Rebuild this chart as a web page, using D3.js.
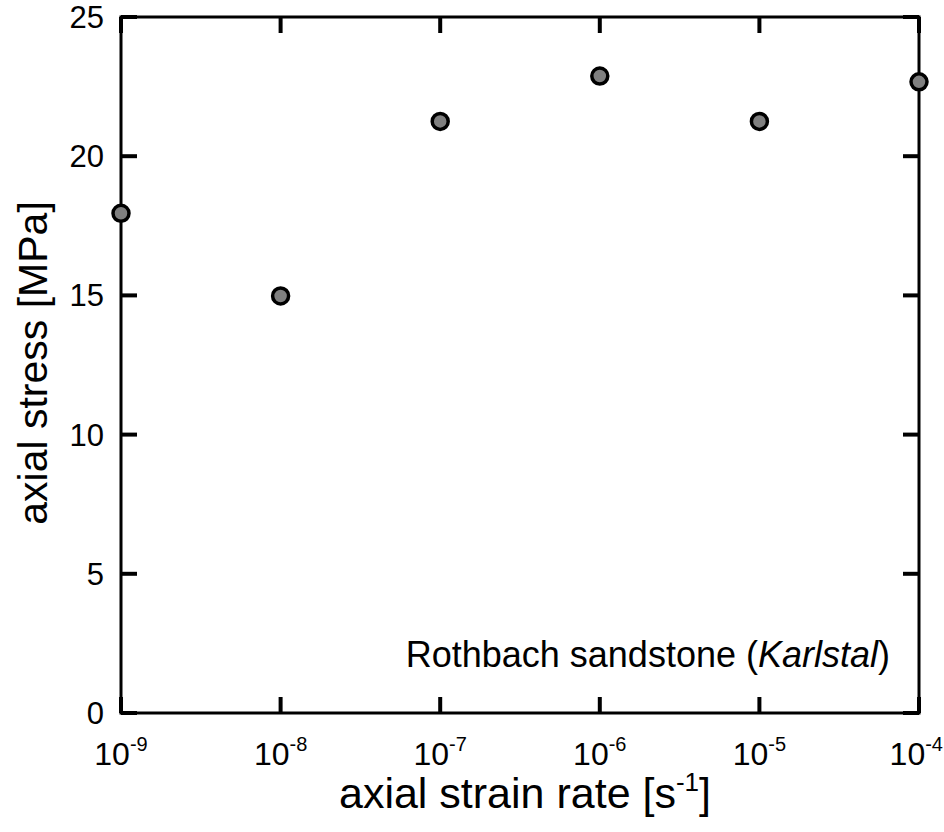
<!DOCTYPE html>
<html>
<head>
<meta charset="utf-8">
<script src="https://cdn.jsdelivr.net/npm/d3@7"></script>
<style>
  body { margin: 0; background: #fff; }
  text { font-family: "Liberation Sans", Arial, sans-serif; fill: #000; }
</style>
</head>
<body>
<svg width="944" height="832"></svg>
<script>
// data
var strainRates = [1e-9, 1e-8, 1e-7, 1e-6, 1e-5, 1e-4];
var axialStress = [17.95, 14.98, 21.25, 22.88, 21.25, 22.67];
var xTickExps = [-9, -8, -7, -6, -5, -4];
var yTicks = [0, 5, 10, 15, 20, 25];

var svg = d3.select("svg");
var W = 944;
var mLeft = 121, mRight = 919, mTop = 17, mBottom = 713;

var x = d3.scaleLog().domain([1e-9, 1e-4]).range([mLeft, mRight]);
var y = d3.scaleLinear().domain([0, 25]).range([mBottom, mTop]);

// ticks (inside, on all four sides)
var tickLen = 16;
var g = svg.append("g");
g.selectAll(".xb").data(xTickExps).enter().append("line")
  .attr("x1", d => x(Math.pow(10, d))).attr("x2", d => x(Math.pow(10, d)))
  .attr("y1", mBottom).attr("y2", mBottom - tickLen)
  .attr("stroke", "#000").attr("stroke-width", 4);
g.selectAll(".xt").data(xTickExps).enter().append("line")
  .attr("x1", d => x(Math.pow(10, d))).attr("x2", d => x(Math.pow(10, d)))
  .attr("y1", mTop).attr("y2", mTop + tickLen)
  .attr("stroke", "#000").attr("stroke-width", 4);
g.selectAll(".yl").data(yTicks).enter().append("line")
  .attr("x1", mLeft).attr("x2", mLeft + tickLen)
  .attr("y1", d => y(d)).attr("y2", d => y(d))
  .attr("stroke", "#000").attr("stroke-width", 4);
g.selectAll(".yr").data(yTicks).enter().append("line")
  .attr("x1", mRight).attr("x2", mRight - tickLen)
  .attr("y1", d => y(d)).attr("y2", d => y(d))
  .attr("stroke", "#000").attr("stroke-width", 4);

// frame
svg.append("rect")
  .attr("x", mLeft).attr("y", mTop)
  .attr("width", mRight - mLeft).attr("height", mBottom - mTop)
  .attr("fill", "none").attr("stroke", "#000").attr("stroke-width", 3);

// y tick labels
svg.selectAll(".ylab").data(yTicks).enter().append("text")
  .attr("x", 104).attr("y", d => y(d) + 11)
  .attr("text-anchor", "end")
  .style("font-size", "31px")
  .text(d => d);

// x tick labels with superscript exponent
var xl = svg.selectAll(".xlab").data(xTickExps).enter().append("text")
  .attr("x", d => x(Math.pow(10, d)))
  .attr("y", 765)
  .attr("text-anchor", "middle")
  .style("font-size", "32px");
xl.append("tspan").text("10");
xl.append("tspan").attr("dy", -14).style("font-size", "20px").text(d => "-" + Math.abs(d));
// keep the last label inside the page
xl.each(function() {
  var b = this.getBBox();
  if (b.x + b.width > W - 1) {
    d3.select(this).attr("x", +d3.select(this).attr("x") - (b.x + b.width - W + 1));
  }
});

// axis titles
var xt = svg.append("text")
  .attr("x", (mLeft + mRight) / 2 + 5).attr("y", 808)
  .attr("text-anchor", "middle")
  .style("font-size", "43px");
xt.append("tspan").text("axial strain rate [s");
xt.append("tspan").attr("dy", -17).style("font-size", "26px").text("-1");
xt.append("tspan").attr("dy", 17).text("]");

svg.append("text")
  .attr("transform", "translate(47," + ((mTop + mBottom) / 2 - 2) + ") rotate(-90)")
  .attr("text-anchor", "middle")
  .style("font-size", "41px")
  .text("axial stress [MPa]");

// annotation
var ann = svg.append("text")
  .attr("x", 890).attr("y", 667)
  .attr("text-anchor", "end")
  .style("font-size", "36px");
ann.append("tspan").text("Rothbach sandstone (");
ann.append("tspan").style("font-style", "italic").text("Karlstal");
ann.append("tspan").text(")");

// points
svg.selectAll(".pt").data(strainRates).enter().append("circle")
  .attr("cx", d => x(d))
  .attr("cy", (d, i) => y(axialStress[i]))
  .attr("r", 8)
  .attr("fill", "#808080")
  .attr("stroke", "#000")
  .attr("stroke-width", 3.5);
</script>
</body>
</html>
